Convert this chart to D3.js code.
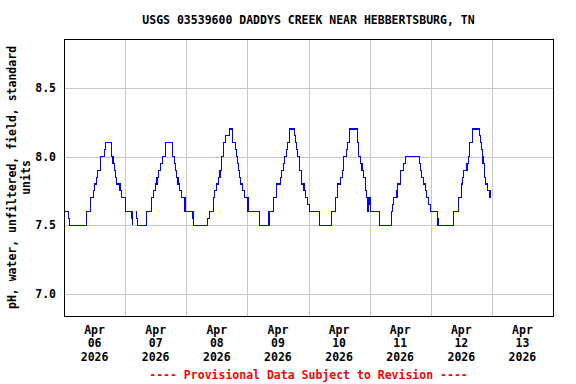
<!DOCTYPE html>
<html>
<head>
<meta charset="utf-8">
<script src="https://cdn.jsdelivr.net/npm/d3@7"></script>
<style>
html,body{margin:0;padding:0;background:#fff;}
svg{display:block;}
text{font-family:"DejaVu Sans Mono","Liberation Mono",monospace;font-weight:bold;font-size:11.5px;}
</style>
</head>
<body>
<svg id="chart" width="576" height="384"></svg>
<script>
// ---- data ----
const chartTitle = "USGS 03539600 DADDYS CREEK NEAR HEBBERTSBURG, TN";
const yAxisLabel = ["pH, water, unfiltered, field, standard", "units"];
const footerNote = "---- Provisional Data Subject to Revision ----";
const yTicks = [7.0, 7.5, 8.0, 8.5];
const xTickDays = ["06", "07", "08", "09", "10", "11", "12", "13"];
const xTickMonth = "Apr";
const xTickYear = "2026";
// hours since 2026-04-06 00:00 at which the recorded value changes (step series); null = gap
const hoursFromStart = [
  0, 1.75, 2, 8.75, 10.25, 11.5, 12, 12.75, 13.25, 14.25, 15.75, 16.25, 18.75, 19.25, 19.75, 20.25, 20.5, 22, 22.75, 24,
  26.5, 26.75, 27, 27.25,
  28.25, 28.5, 28.75, 32.25, 34.5, 35, 35.75, 36.5, 37, 37.75, 38.5, 40, 42.5, 43.25, 43.75, 44.25, 44.75, 45.25, 46, 47.5,
  50.5, 50.75, 51, 56.5, 57, 58.75, 59.25, 59.75, 60.5, 61.25, 61.75, 62.5, 63.5, 65, 66, 66.25, 67.25, 67.75, 68, 68.5,
  68.75, 69.25, 70.25, 70.75, 72.25, 76.75, 80.5, 82.25, 83.5, 85, 85.5, 86.25, 86.5, 87.25, 87.75, 88.5, 90.5, 90.75,
  91.25, 91.75, 92.5, 93.25, 94.25, 94.75, 95.75, 96.25, 100.25, 105, 106.5, 107.5, 108.5, 109.25, 109.75, 110.75, 111.25,
  112, 115.25, 115.5, 115.75, 116.25, 117, 117.75, 118.25, 118.5, 118.75, 119.25, 119.5, 119.75, 120, 120.25, 123.75,
  128.5, 129, 129.5, 130.75, 131, 132, 133.25, 134.25, 139.5, 140, 140.5, 141, 142, 142.25, 143.25, 143.75, 146.5, 146.75,
  147, 153, 154.75, 156, 156.5, 157, 158.25, 158.75, 159.25, 160.25, 160.5, 163, 163.5, 164, 164.25, 164.5, 165.25, 165.5,
  166.25, 167.25
];
const phValues = [
  7.6, 7.55, 7.5, 7.6, 7.7, 7.75, 7.8, 7.85, 7.9, 8.0, 8.05, 8.1, 8.0, 7.95, 7.9, 7.85, 7.8, 7.75, 7.7, 7.6,
  7.55, 7.6, 7.5, null,
  7.6, 7.55, 7.5, 7.6, 7.7, 7.75, 7.8, 7.85, 7.9, 7.95, 8.0, 8.1, 8.0, 7.95, 7.9, 7.85, 7.8, 7.75, 7.7, 7.6,
  7.55, 7.6, 7.5, 7.55, 7.6, 7.7, 7.75, 7.8, 7.85, 7.9, 8.0, 8.1, 8.15, 8.2, 8.15, 8.1, 8.05, 8.0, 7.95, 7.9,
  7.85, 7.8, 7.75, 7.7, 7.6, 7.5, 7.6, 7.7, 7.8, 7.85, 7.9, 7.95, 8.0, 8.05, 8.1, 8.2, 8.15, 8.1,
  8.05, 8.0, 7.9, 7.8, 7.75, 7.7, 7.65, 7.6, 7.5, 7.6, 7.7, 7.8, 7.85, 7.9, 8.0, 8.05, 8.1,
  8.2, 8.1, 8.05, 8.0, 7.95, 7.9, 7.85, 7.8, 7.75, 7.7, 7.6, 7.7, 7.65, 7.7, 7.6, 7.5,
  7.6, 7.65, 7.7, 7.75, 7.8, 7.9, 7.95, 8.0, 7.95, 7.9, 7.85, 7.8, 7.75, 7.7, 7.65, 7.6, 7.5, 7.55,
  7.5, 7.6, 7.7, 7.8, 7.85, 7.9, 7.95, 8.0, 8.1, 8.15, 8.2, 8.15, 8.1, 8.05, 8.0, 7.95, 7.85, 7.8,
  7.75, 7.7
];

// ---- chart ----
const svg = d3.select("#chart");
const margin = {left: 64, top: 39, right: 553, bottom: 316};
const start = new Date(2026, 3, 6, 0, 0);
const end = new Date(2026, 3, 14, 0, 0);
const x = d3.scaleTime().domain([start, end]).range([margin.left, margin.right]);
const y = d3.scaleLinear().domain([6.84, 8.855]).range([margin.bottom, margin.top]);

const data = hoursFromStart.map((h, i) => ({t: d3.timeMinute.offset(start, Math.round(h * 60)), v: phValues[i]}));

const crisp = v => Math.round(v) + 0.5;

// grid
const gridColor = "#c8c8c8";
const days = d3.timeDay.range(d3.timeDay.offset(start, 1), end);
svg.append("g").selectAll("line").data(days).join("line")
  .attr("x1", d => crisp(x(d))).attr("x2", d => crisp(x(d)))
  .attr("y1", margin.top).attr("y2", margin.bottom)
  .attr("stroke", gridColor).attr("stroke-width", 1);
svg.append("g").selectAll("line").data(yTicks).join("line")
  .attr("x1", margin.left).attr("x2", margin.right)
  .attr("y1", d => crisp(y(d))).attr("y2", d => crisp(y(d)))
  .attr("stroke", gridColor).attr("stroke-width", 1);

// data line
const line = d3.line()
  .defined(d => d.v != null)
  .x(d => x(d.t))
  .y(d => y(d.v))
  .curve(d3.curveStepAfter);
svg.append("path").datum(data)
  .attr("d", line)
  .attr("fill", "none")
  .attr("stroke", "#0000ff")
  .attr("stroke-width", 1.1)
  .attr("shape-rendering", "crispEdges");

// frame
svg.append("rect")
  .attr("x", margin.left + 0.5).attr("y", margin.top + 0.5)
  .attr("width", margin.right - margin.left).attr("height", margin.bottom - margin.top)
  .attr("fill", "none").attr("stroke", "#000").attr("stroke-width", 1);

// y tick labels
svg.append("g").selectAll("text").data(yTicks).join("text")
  .attr("x", 56).attr("y", d => y(d))
  .attr("dy", "0.35em")
  .attr("text-anchor", "end")
  .text(d => d3.format(".1f")(d));

// x tick labels (at noon of each day)
const labelDays = d3.timeDay.range(start, end);
const xl = svg.append("g").selectAll("text").data(labelDays).join("text")
  .attr("text-anchor", "middle")
  .attr("x", d => x(d3.timeHour.offset(d, 12)))
  .attr("y", 334);
xl.append("tspan").attr("x", d => x(d3.timeHour.offset(d, 12))).attr("dy", 0).text(xTickMonth);
xl.append("tspan").attr("x", d => x(d3.timeHour.offset(d, 12))).attr("dy", 13.3).text((d, i) => xTickDays[i]);
xl.append("tspan").attr("x", d => x(d3.timeHour.offset(d, 12))).attr("dy", 13.3).text(xTickYear);

// title
svg.append("text")
  .attr("x", (margin.left + margin.right) / 2).attr("y", 24)
  .attr("text-anchor", "middle")
  .text(chartTitle);

// y axis label
const cy = (margin.top + margin.bottom) / 2;
yAxisLabel.forEach((s, i) => {
  svg.append("text")
    .attr("transform", `translate(${16 + i * 14},${cy}) rotate(-90)`)
    .attr("text-anchor", "middle")
    .text(s);
});

// provisional footer
svg.append("text")
  .attr("x", (margin.left + margin.right) / 2).attr("y", 379)
  .attr("text-anchor", "middle")
  .attr("fill", "#ff0000")
  .text(footerNote);
</script>
</body>
</html>
